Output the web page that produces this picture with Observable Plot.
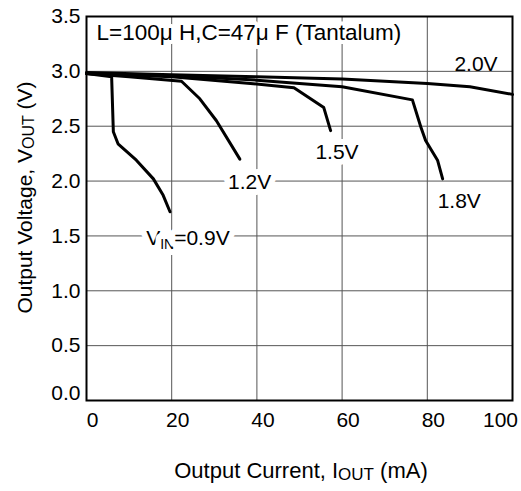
<!DOCTYPE html>
<html><head><meta charset="utf-8">
<script src="https://cdn.jsdelivr.net/npm/d3@7"></script>
<script src="https://cdn.jsdelivr.net/npm/@observablehq/plot@0.6"></script>
<style>body{margin:0;background:#fff} svg{display:block}</style>
</head><body><div id="chart"></div>
<script>
// Series (input voltage) and their curves: output current (mA) vs output voltage (V)
const vin = ["0.9V", "1.2V", "1.5V", "1.8V", "2.0V"];
const iout_09 = [0, 5.9, 6.3, 7.4, 11.7, 15.7, 18.0, 19.6];
const vout_09 = [2.98, 2.95, 2.45, 2.34, 2.19, 2.02, 1.87, 1.72];
const iout_12 = [0, 10, 22.3, 26.6, 30.5, 36.0];
const vout_12 = [2.98, 2.95, 2.91, 2.75, 2.55, 2.20];
const iout_15 = [0, 20, 38.5, 48.7, 55.7, 57.3];
const vout_15 = [2.98, 2.95, 2.89, 2.85, 2.67, 2.46];
const iout_18 = [0, 20, 40, 60, 76.5, 78.5, 79.6, 82.4, 83.6];
const vout_18 = [2.98, 2.96, 2.92, 2.86, 2.74, 2.49, 2.37, 2.19, 2.02];
const iout_20 = [0, 20, 40, 60, 80, 90, 100];
const vout_20 = [2.99, 2.97, 2.95, 2.93, 2.89, 2.86, 2.79];

// Ticks
const xTicks = [0, 20, 40, 60, 80, 100];
const yTicks = [0, 0.5, 1.0, 1.5, 2.0, 2.5, 3.0, 3.5];
const xGrid = [20, 40, 60, 80];
const yGrid = [0.5, 1.0, 1.5, 2.0, 2.5, 3.0];

// Annotations
const noteText = ["L=100μ H,C=47μ F (Tantalum)"];
const noteX = [2.35], noteY = [3.35];
const curveLabels = ["1.2V", "1.5V", "1.8V"];
const curveLabelX = [38.3, 58.8, 87.5];
const curveLabelY = [1.99, 2.26, 1.82];
const topLabel = ["2.0V"], topLabelX = [96.5], topLabelY = [3.0];
const vinLabelParts = ["V", "IN", "=0.9V"];
const vinLabelX = [23.8], vinLabelY = [1.48];

const xTitle = ["Output Current, I", "OUT", " (mA)"];
const yTitle = ["Output Voltage, V", "OUT", " (V)"];

const src = [[iout_09, vout_09], [iout_12, vout_12], [iout_15, vout_15], [iout_18, vout_18], [iout_20, vout_20]];
const rows = [];
vin.forEach((v, k) => src[k][0].forEach((x, i) => rows.push({vin: v, iout: x, vout: src[k][1][i]})));

const font = "'Liberation Sans', Arial, Helvetica, sans-serif";
const halo = {fill: "#000", stroke: "#fff", strokeWidth: 12, paintOrder: "stroke", fontSize: 21};

const plot = Plot.plot({
  width: 521, height: 491,
  marginLeft: 86, marginRight: 9, marginTop: 16, marginBottom: 91,
  style: {fontFamily: font, background: "#fff", color: "#000", overflow: "visible"},
  x: {domain: [0, 100]},
  y: {domain: [0, 3.5]},
  marks: [
    Plot.gridX(xGrid, {stroke: "#555", strokeOpacity: 1, strokeWidth: 1}),
    Plot.gridY(yGrid, {stroke: "#555", strokeOpacity: 1, strokeWidth: 1}),
    Plot.text(noteText, {x: noteX, y: noteY, text: d => d, textAnchor: "start", lineAnchor: "middle", fill: "#000", stroke: "#fff", strokeWidth: 8, paintOrder: "stroke", fontSize: 22.5}),
    Plot.text(curveLabels, {x: curveLabelX, y: curveLabelY, text: d => d, textAnchor: "middle", lineAnchor: "middle", ...halo}),
    Plot.text(topLabel, {x: topLabelX, y: topLabelY, text: d => d, textAnchor: "end", lineAnchor: "bottom", fill: "#000", fontSize: 21}),
    Plot.text([vinLabelParts.join("")], {x: vinLabelX, y: vinLabelY, text: d => d, textAnchor: "middle", lineAnchor: "middle", ...halo}),
    Plot.line(rows, {x: "iout", y: "vout", z: "vin", stroke: "#000", strokeWidth: 3, strokeLinejoin: "round", strokeLinecap: "round"}),
    Plot.frame({stroke: "#000", strokeWidth: 2}),
    Plot.axisY(yTicks.filter(d => d > 0), {tickSize: 0, tickPadding: 6, fontSize: 21, tickFormat: d => d.toFixed(1), label: null, fill: "#000"}),
    Plot.axisY([0], {tickSize: 0, tickPadding: 6, fontSize: 21, dy: -7, tickFormat: d => d.toFixed(1), label: null, fill: "#000"}),
    Plot.axisX(xTicks.slice(0, 5), {tickSize: 0, tickPadding: 12, dx: 6, fontSize: 21, label: null, fill: "#000"}),
    Plot.axisX([100], {tickSize: 0, tickPadding: 12, dx: -12, fontSize: 21, label: null, fill: "#000"})
  ]
});

document.getElementById("chart").appendChild(plot);
const svg = d3.select(plot);

// Subscript for V_IN label
const joined = vinLabelParts.join("");
svg.selectAll("text").filter(function () { return this.textContent === joined; }).each(function () {
  const vt = d3.select(this);
  vt.text(null);
  vt.append("tspan").text(vinLabelParts[0]);
  vt.append("tspan").attr("font-size", 14).attr("dy", 4).text(vinLabelParts[1]);
  vt.append("tspan").attr("dy", -4).text(vinLabelParts[2]);
});

// Axis titles with subscripts
const xs = plot.scale("x").range;
const xt = svg.append("text").attr("x", (xs[0] + xs[1]) / 2 + 2).attr("y", 478)
  .attr("text-anchor", "middle").attr("font-size", 22).attr("fill", "#000").attr("font-family", font);
xt.append("tspan").text(xTitle[0]);
xt.append("tspan").attr("font-size", 17).attr("dy", 2).text(xTitle[1]);
xt.append("tspan").attr("dy", -2).text(xTitle[2]);

const yt = svg.append("text").attr("transform", "translate(32,197.5) rotate(-90)")
  .attr("text-anchor", "middle").attr("font-size", 21).attr("fill", "#000").attr("font-family", font);
yt.append("tspan").text(yTitle[0]);
yt.append("tspan").attr("font-size", 16).attr("dy", 2).text(yTitle[1]);
yt.append("tspan").attr("dy", -2).text(yTitle[2]);
</script>
</body></html>
